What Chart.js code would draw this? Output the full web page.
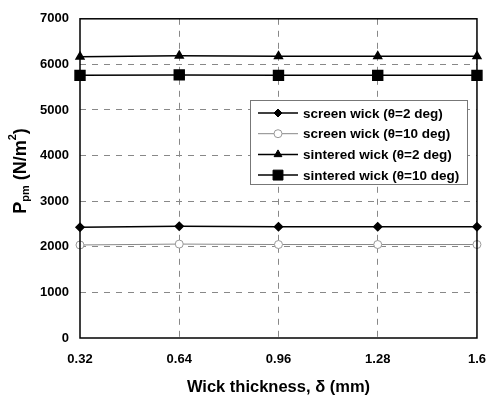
<!DOCTYPE html>
<html lang="en">
<head>
    <meta charset="UTF-8">
    <title>Wick thickness chart</title>
    <script src="https://cdn.jsdelivr.net/npm/chart.js"></script>
    <style>
        html, body { margin: 0; padding: 0; background: #fff; }
        #wrap { width: 500px; height: 399px; }
    </style>
</head>
<body>
    <div id="wrap"><canvas id="wickChart" width="500" height="399"></canvas></div>

    <script>
        // data
        let thickness = [0.32, 0.64, 0.96, 1.28, 1.6];
        let xTicks = [0.32, 0.64, 0.96, 1.28, 1.6];
        let yTicks = [0, 1000, 2000, 3000, 4000, 5000, 6000, 7000];
        let screen2 = [2430, 2450, 2440, 2440, 2440];
        let screen10 = [2040, 2060, 2050, 2050, 2050];
        let sintered2 = [6170, 6190, 6180, 6180, 6180];
        let sintered10 = [5760, 5770, 5760, 5760, 5760];
        let seriesNames = [
            "screen wick (\u03b8=2 deg)",
            "screen wick (\u03b8=10 deg)",
            "sintered wick (\u03b8=2 deg)",
            "sintered wick (\u03b8=10 deg)"
        ];

        function pts(vals) {
            return vals.map((v, i) => ({ x: thickness[i], y: v }));
        }

        // box round the plot + y title with sub/superscripts + legend inside the plot
        const extras = {
            id: "extras",
            afterDraw(chart) {
                let ctx = chart.ctx;
                let a = chart.chartArea;
                ctx.save();
                ctx.strokeStyle = "#000";
                ctx.lineWidth = 1.5;
                ctx.strokeRect(a.left, a.top, a.right - a.left, a.bottom - a.top);

                // y title
                ctx.translate(21, 171);
                ctx.rotate(-Math.PI / 2);
                ctx.fillStyle = "#000";
                ctx.textBaseline = "middle";
                let parts = [
                    { t: "P", f: "bold 18px 'Liberation Sans', Arial", dy: 0 },
                    { t: "pm", f: "bold 11px 'Liberation Sans', Arial", dy: 5 },
                    { t: " (N/m", f: "bold 18px 'Liberation Sans', Arial", dy: 0 },
                    { t: "2", f: "bold 11px 'Liberation Sans', Arial", dy: -8 },
                    { t: ")", f: "bold 18px 'Liberation Sans', Arial", dy: 0 }
                ];
                let total = 0;
                parts.forEach(p => { ctx.font = p.f; p.w = ctx.measureText(p.t).width; total += p.w; });
                let x = -total / 2;
                parts.forEach(p => {
                    ctx.font = p.f;
                    ctx.textAlign = "left";
                    ctx.fillText(p.t, x, p.dy);
                    x += p.w;
                });
                ctx.restore();

                // legend
                ctx.save();
                let bx = 250, by = 100, bw = 217, bh = 84;
                ctx.fillStyle = "#fff";
                ctx.fillRect(bx, by, bw, bh);
                ctx.strokeStyle = "#777";
                ctx.lineWidth = 1;
                ctx.strokeRect(bx + 0.5, by + 0.5, bw, bh);
                ctx.font = "bold 13.5px 'Liberation Sans', Arial";
                ctx.textBaseline = "middle";
                ctx.textAlign = "left";
                chart.data.datasets.forEach((ds, i) => {
                    let yy = by + 13 + i * 20.7;
                    ctx.strokeStyle = ds.borderColor;
                    ctx.lineWidth = ds.borderWidth;
                    ctx.setLineDash([]);
                    ctx.beginPath();
                    ctx.moveTo(bx + 8, yy);
                    ctx.lineTo(bx + 48, yy);
                    ctx.stroke();
                    ctx.fillStyle = ds.pointBackgroundColor;
                    ctx.strokeStyle = ds.pointBorderColor;
                    ctx.lineWidth = 1;
                    Chart.helpers.drawPoint(ctx, {
                        pointStyle: ds.pointStyle,
                        radius: ds.pointRadius,
                        rotation: 0,
                        borderWidth: 1
                    }, bx + 28, yy);
                    ctx.fillStyle = "#000";
                    ctx.fillText(ds.label, bx + 53, yy + 1);
                });
                ctx.restore();
            }
        };

        let ctx = document.getElementById("wickChart").getContext("2d");
        new Chart(ctx, {
            type: "line",
            data: {
                datasets: [
                    {
                        label: seriesNames[0], data: pts(screen2),
                        borderColor: "#000", borderWidth: 1.5,
                        pointStyle: "rectRot", pointRadius: 4,
                        pointBackgroundColor: "#000", pointBorderColor: "#000"
                    },
                    {
                        label: seriesNames[1], data: pts(screen10),
                        borderColor: "#888", borderWidth: 1,
                        pointStyle: "circle", pointRadius: 4,
                        pointBackgroundColor: "#fff", pointBorderColor: "#999"
                    },
                    {
                        label: seriesNames[2], data: pts(sintered2),
                        borderColor: "#000", borderWidth: 1.5,
                        pointStyle: "triangle", pointRadius: 4.5,
                        pointBackgroundColor: "#000", pointBorderColor: "#000"
                    },
                    {
                        label: seriesNames[3], data: pts(sintered10),
                        borderColor: "#000", borderWidth: 1.5,
                        pointStyle: "rect", pointRadius: 7,
                        pointBackgroundColor: "#000", pointBorderColor: "#000"
                    }
                ]
            },
            options: {
                responsive: false,
                animation: false,
                clip: false,
                layout: { padding: { top: 14, right: 14, bottom: 0, left: 0 } },
                plugins: {
                    legend: { display: false },
                    tooltip: { enabled: false }
                },
                scales: {
                    x: {
                        type: "linear",
                        min: 0.32,
                        max: 1.6,
                        afterBuildTicks: (s) => { s.ticks = xTicks.map(v => ({ value: v })); },
                        afterFit: (s) => { s.height = 61; },
                        ticks: {
                            color: "#000",
                            padding: 14,
                            font: { family: "'Liberation Sans', Arial", size: 13, weight: "bold" },
                            callback: (v) => String(v)
                        },
                        grid: {
                            drawTicks: false,
                            color: (c) => (c.index === 0 || c.index === xTicks.length - 1) ? "transparent" : "#888"
                        },
                        border: { display: false, dash: [6, 6] },
                        title: {
                            display: true,
                            text: "Wick thickness, \u03b4 (mm)",
                            color: "#000",
                            padding: { top: 11, bottom: 2 },
                            font: { family: "'Liberation Sans', Arial", size: 16.5, weight: "bold" }
                        }
                    },
                    y: {
                        min: 0,
                        max: 7000,
                        afterBuildTicks: (s) => { s.ticks = yTicks.map(v => ({ value: v })); },
                        afterFit: (s) => { s.width = 80; },
                        ticks: {
                            color: "#000",
                            padding: 11,
                            font: { family: "'Liberation Sans', Arial", size: 13, weight: "bold" },
                            callback: (v) => String(v)
                        },
                        grid: {
                            drawTicks: false,
                            color: (c) => (c.index === 0 || c.index === yTicks.length - 1) ? "transparent" : "#888"
                        },
                        border: { display: false, dash: [6, 6] }
                    }
                }
            },
            plugins: [extras]
        });
    </script>
</body>
</html>
